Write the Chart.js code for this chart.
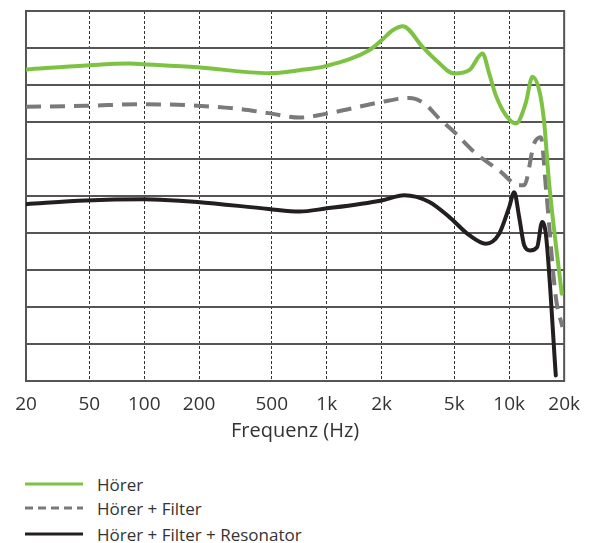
<!DOCTYPE html>
<html>
<head>
<meta charset="utf-8">
<style>
  body { margin: 0; background: #fff; overflow: hidden; }
  #wrap { position: relative; width: 592px; height: 543px; overflow: hidden; }
  #legend { position: absolute; left: 0; top: 0; width: 592px; }
  .row { position: absolute; left: 25px; height: 22px; display: flex; align-items: center;
         font-family: "Open Sans", sans-serif; font-size: 17px; color: #333; white-space: nowrap; }
  .row svg { margin-right: 14px; }
</style>
</head>
<body>
<div id="wrap">
  <canvas id="chart" width="592" height="460"></canvas>
  <div id="legend"></div>
</div>
<script src="https://cdn.jsdelivr.net/npm/chart.js@4/dist/chart.umd.min.js"></script>
<script>
// series names
var seriesNames = ['Hörer', 'Hörer + Filter', 'Hörer + Filter + Resonator'];

// x ticks (first grid position is the left edge of the plot)
var tickValues = [22.5, 50, 100, 200, 500, 1000, 2000, 5000, 10000, 20000];
var tickLabels = ['20', '50', '100', '200', '500', '1k', '2k', '5k', '10k', '20k'];

// level in grid divisions (0 = bottom line, 10 = top line)
var hoererFreq  = [22.5, 48, 83, 100, 196, 480, 710, 985, 1710, 2000, 2300, 2610, 3350, 3970, 5000, 6040, 7140, 7770, 8450, 9600, 10900, 12300, 13400, 14600, 15500, 16550, 19400];
var hoererLevel = [8.42, 8.53, 8.58, 8.56, 8.48, 8.32, 8.40, 8.51, 8.94, 9.21, 9.48, 9.59, 9.03, 8.67, 8.31, 8.40, 8.85, 8.31, 7.72, 7.18, 6.96, 7.50, 8.22, 7.86, 7.05, 5.34, 2.36];

var filterFreq  = [22.5, 48, 100, 196, 333, 480, 710, 985, 2000, 2840, 3430, 4140, 5000, 6430, 8810, 11340, 12080, 13700, 14900, 15940, 18000, 19570];
var filterLevel = [7.41, 7.44, 7.48, 7.44, 7.35, 7.24, 7.12, 7.22, 7.54, 7.65, 7.50, 7.09, 6.73, 6.19, 5.69, 5.29, 5.29, 6.42, 6.59, 5.15, 2.27, 1.46];

var resoFreq  = [22.5, 48, 100, 122, 196, 480, 710, 985, 2000, 2660, 3650, 4700, 6040, 7440, 8810, 10000, 10650, 11340, 12080, 13020, 14230, 15150, 15940, 18000];
var resoLevel = [4.78, 4.88, 4.91, 4.90, 4.84, 4.65, 4.58, 4.66, 4.88, 5.02, 4.84, 4.43, 3.94, 3.71, 3.98, 4.70, 5.10, 4.43, 3.67, 3.53, 3.62, 4.30, 3.90, 0.15];

var colors = ['#7dc243', '#7a7a7a', '#231f20'];
var dashes = [[], [15, 9], []];

function pts(fx, fy) {
  return fx.map(function (f, i) { return { x: f, y: fy[i] }; });
}

var frame = {
  id: 'frame',
  beforeDatasetsDraw: function (chart) {
    var a = chart.chartArea, c = chart.ctx;
    c.save();
    c.strokeStyle = '#555';
    c.lineWidth = 2;
    c.strokeRect(a.left, a.top, a.right - a.left, a.bottom - a.top);
    c.restore();
  }
};

var series = [pts(hoererFreq, hoererLevel), pts(filterFreq, filterLevel), pts(resoFreq, resoLevel)];

var chart = new Chart(document.getElementById('chart'), {
  type: 'line',
  data: {
    datasets: series.map(function (d, i) {
      return {
        label: seriesNames[i],
        data: d,
        borderColor: colors[i],
        borderWidth: 4,
        borderDash: dashes[i],
        borderCapStyle: i == 1 ? 'butt' : 'round',
        borderJoinStyle: 'round',
        pointRadius: 0,
        cubicInterpolationMode: 'monotone',
        fill: false
      };
    })
  },
  options: {
    responsive: false,
    animation: false,
    devicePixelRatio: 1,
    layout: { padding: { left: 26, right: 27, top: 11, bottom: 0 } },
    plugins: { legend: { display: false }, tooltip: { enabled: false } },
    scales: {
      x: {
        type: 'logarithmic',
        min: 22.5,
        max: 20000,
        afterBuildTicks: function (s) { s.ticks = tickValues.map(function (v) { return { value: v }; }); },
        afterFit: function (s) { s.height = 79; },
        grid: {
          color: function (ctx) {
            return (ctx.index === 0 || ctx.index === tickValues.length - 1) ? 'rgba(0,0,0,0)' : '#333';
          },
          lineWidth: 1,
          drawTicks: false
        },
        border: { display: false, dash: [3, 2] },
        ticks: {
          autoSkip: false,
          maxRotation: 0,
          padding: 12,
          color: '#333',
          font: { family: 'Open Sans', size: 19 },
          callback: function (v, i) { return tickLabels[i]; }
        },
        title: {
          display: true,
          text: 'Frequenz (Hz)',
          color: '#333',
          font: { family: 'Open Sans', size: 20 },
          padding: { top: 4, bottom: 17 }
        }
      },
      y: {
        min: 0,
        max: 10,
        ticks: { display: false, stepSize: 1 },
        grid: { color: '#555', lineWidth: 2, drawTicks: false },
        border: { display: true, color: '#555', width: 2 }
      }
    }
  },
  plugins: [frame]
});

// legend
var rowCentres = [484, 508, 534];
var lg = document.getElementById('legend');
chart.data.datasets.forEach(function (ds, i) {
  var row = document.createElement('div');
  row.className = 'row';
  row.style.top = (rowCentres[i] - 11) + 'px';
  var dash = i == 1 ? ' stroke-dasharray="8,5"' : '';
  row.innerHTML = '<svg width="58" height="6"><line x1="0" y1="3" x2="58" y2="3" stroke="' + colors[i] +
    '" stroke-width="3"' + dash + '/></svg><span>' + ds.label + '</span>';
  lg.appendChild(row);
});
</script>
</body>
</html>
